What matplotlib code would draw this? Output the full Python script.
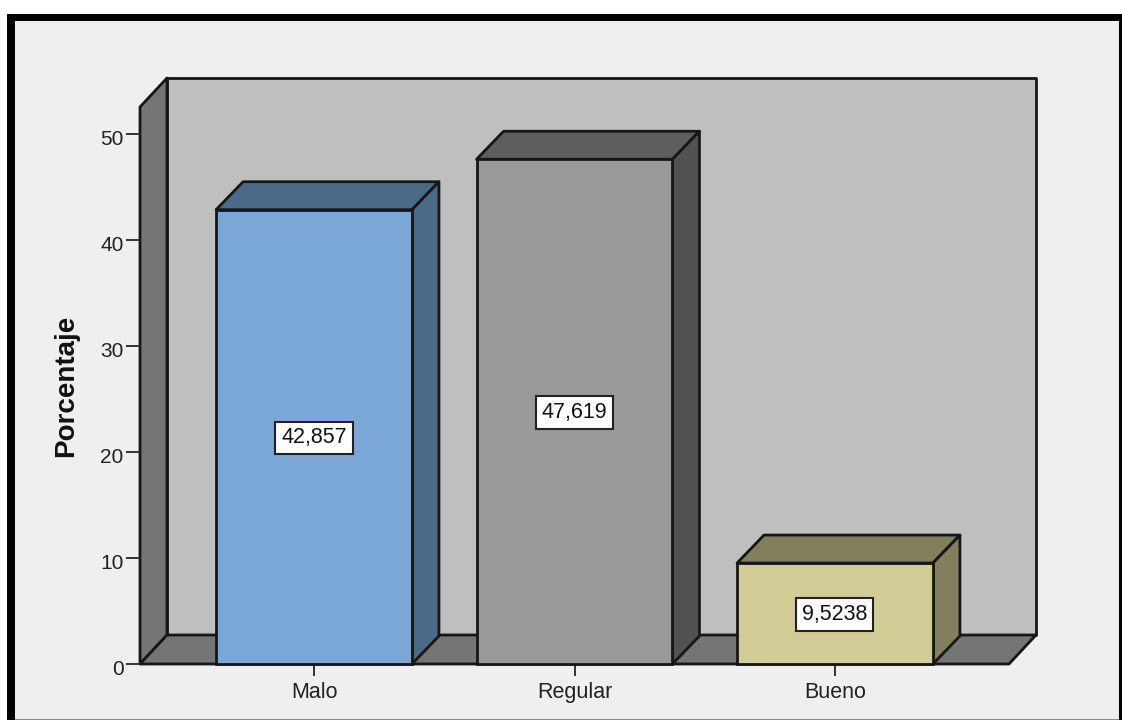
import numpy as np
import matplotlib
matplotlib.use("Agg")
from matplotlib import pyplot as plt
from matplotlib.patches import Polygon, Rectangle
from matplotlib.transforms import ScaledTranslation

categories = ["Malo", "Regular", "Bueno"]
porcentaje = [42.857, 47.619, 9.5238]
value_labels = ["42,857", "47,619", "9,5238"]
yticks = [0, 10, 20, 30, 40, 50]

front_colors = ["#7aa7d6", "#999999", "#d2cd96"]
side_colors = ["#4b6a87", "#525252", "#827f5c"]
top_colors = ["#4b6a87", "#5e5e5e", "#827f5c"]

plt.rcParams['font.family'] = ['Liberation Sans', 'DejaVu Sans']

W, H = 1122, 720
fig = plt.figure(figsize=(W / 100, H / 100), dpi=100, facecolor="white")


def frame_rect(x, y, w, h, color):
    # x, y, w, h in pixels from the top left corner
    fig.add_artist(Rectangle((x / W, 1 - (y + h) / H), w / W, h / H, transform=fig.transFigure,
                             facecolor=color, edgecolor="none", zorder=-1))


# window background and thick black border
frame_rect(15, 21, 1104, 698, "#efefef")
frame_rect(7, 14, 8, 706, "black")
frame_rect(7, 14, 1115, 7, "black")
frame_rect(1119, 14, 3, 706, "black")
frame_rect(15, 718.5, 1104, 1.5, "#8a8a8a")

ax = fig.add_axes([140 / W, 1 - 664 / H, 869 / W, 557 / H])
ax.set_xlim(-0.668, 2.668)
ax.set_ylim(0, 52.55)
ax.patch.set_alpha(0)

# depth of the fake 3d box and bars, in data units
dx = 27 / 260.5
dy_box = 29 / 10.6
dy = 28 / 10.6
bar_w = 0.752
x0, x1 = ax.get_xlim()
y1 = ax.get_ylim()[1]
lw = 2.0
edge = "#161616"


def face(pts, color, z):
    ax.add_patch(Polygon(pts, closed=True, facecolor=color, edgecolor=edge,
                         linewidth=lw, clip_on=False, zorder=z, joinstyle="round"))


# back wall, left wall, floor
face([(x0 + dx, dy_box), (x1 + dx, dy_box), (x1 + dx, y1 + dy_box), (x0 + dx, y1 + dy_box)], "#bfbfbf", 1)
face([(x0, 0), (x0 + dx, dy_box), (x0 + dx, y1 + dy_box), (x0, y1)], "#757575", 1.1)
face([(x0, 0), (x1, 0), (x1 + dx, dy_box), (x0 + dx, dy_box)], "#757575", 1.2)

for i, v in enumerate(porcentaje):
    l = i - bar_w / 2
    r = i + bar_w / 2
    face([(l, v), (r, v), (r + dx, v + dy), (l + dx, v + dy)], top_colors[i], 2)
    face([(r, 0), (r + dx, dy), (r + dx, v + dy), (r, v)], side_colors[i], 2)
    ax.bar(i, v, width=bar_w, color=front_colors[i], edgecolor=edge,
           linewidth=lw, zorder=3, clip_on=False)
    ax.text(i, v / 2 - 0.1, value_labels[i], ha="center", va="center", fontsize=15.5,
            color="#111111", zorder=4,
            bbox=dict(boxstyle="square,pad=0.27", facecolor="white", edgecolor="#222222", linewidth=1.5))

for s in ax.spines.values():
    s.set_visible(False)
ax.set_xticks(range(3))
ax.set_xticklabels(categories, fontsize=15.5, color="#222222")
ax.tick_params(axis="x", length=8.5, width=1.4, color="#333333", pad=4.5)
ax.set_yticks(yticks)
ax.set_yticklabels([str(t) for t in yticks], fontsize=15, color="#222222")
ax.tick_params(axis="y", length=10, width=1.4, color="#333333", pad=1)
# tick numbers sit slightly below their tick marks
shift = ScaledTranslation(-1 / 100, -3.5 / 100, fig.dpi_scale_trans)
for lab in ax.get_yticklabels():
    lab.set_transform(lab.get_transform() + shift)
ax.set_ylabel("Porcentaje", fontsize=20, fontweight="bold", color="#111111")
ax.yaxis.set_label_coords((79 - 140) / 869, (664 - 386) / 557)

fig.savefig("out.png", dpi=100)
